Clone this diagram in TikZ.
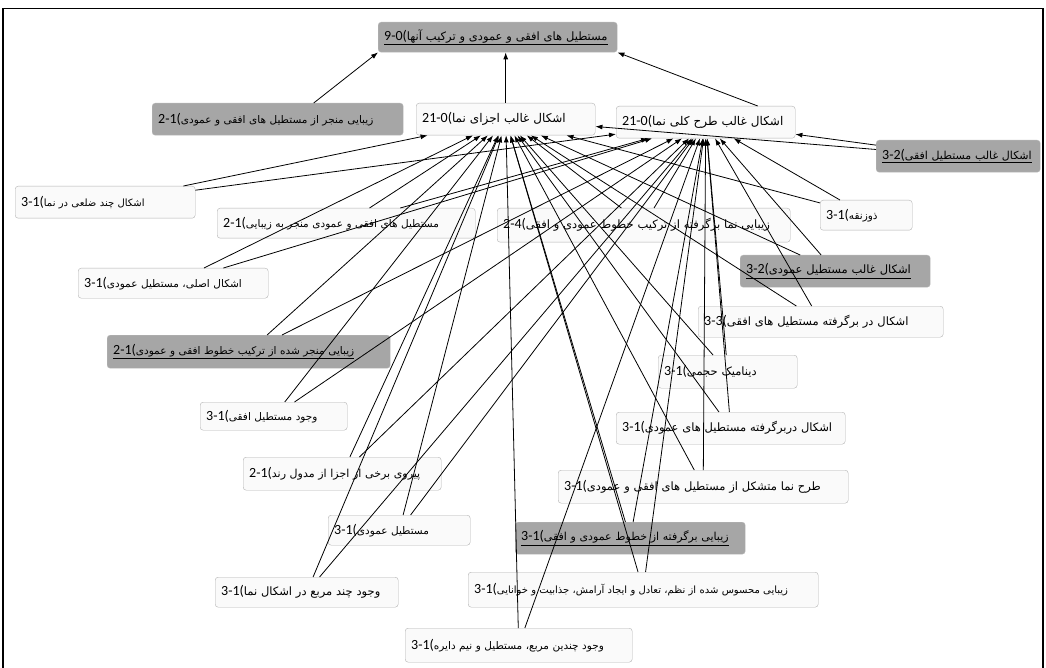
\documentclass[tikz,border=0pt]{standalone}
\usepackage{fontspec}
\setmainfont{Carlito}
\newfontfamily\fa[Script=Arabic]{DejaVu Sans}
\TeXXeTstate=1
\usetikzlibrary{arrows.meta}
% code digits in front of the Persian text
\newcommand{\dg}[1]{{\fontsize{14}{15}\selectfont #1(}}

\begin{document}
\begin{tikzpicture}[x=1pt,y=-1pt,
  box/.style={draw=gray!60, fill=gray!4, rounded corners=3pt, anchor=north west,
    inner xsep=6pt, inner ysep=2pt, align=left, font=\fontsize{10.5}{12}\selectfont},
  darkbox/.style={box, fill=gray!70, draw=gray!55},
  link/.style={-{Latex[length=7pt,width=5pt]}, line width=0.8pt}]
  \useasboundingbox (0,0) rectangle (1046,668);
  \draw[line width=1.6pt] (3,668) -- (3,8.5) -- (1043,8.5) -- (1043,668);

  % core
  \node[darkbox, text width=227pt, minimum height=30pt, font=\fontsize{11.5}{13}\selectfont] (n1) at (378,22) {\underline{\dg{9-0}\fa\beginR مستطیل های افقی و عمودی و ترکیب آنها\endR}};
  \node[box, text width=167pt, minimum height=32pt, font=\fontsize{12}{14}\selectfont] (n2) at (416,103) {\dg{21-0}\fa\beginR اشکال غالب اجزای نما\endR};
  \node[box, text width=167pt, minimum height=32pt, font=\fontsize{12}{14}\selectfont] (n3) at (616,106) {\dg{21-0}\fa\beginR اشکال غالب طرح کلی نما\endR};

  % codes
  \node[darkbox, text width=239pt, minimum height=32pt] (n4) at (152,103) {\dg{2-1}\fa\beginR زیبایی منجر از مستطیل های افقی و عمودی\endR};
  \node[darkbox, text width=152pt, minimum height=32pt, font=\fontsize{11}{13}\selectfont] (n5) at (876,140) {\underline{\dg{3-2}\fa\beginR اشکال غالب مستطیل افقی\endR}};
  \node[box, text width=168pt, minimum height=32pt, font=\fontsize{10}{12}\selectfont] (n6) at (15,186) {\dg{3-1}\fa\beginR اشکال چند ضلعی در نما\endR};
  \node[box, text width=246pt, minimum height=30pt] (n7) at (217,208) {\dg{2-1}\fa\beginR مستطیل های افقی و عمودی منجر به زیبایی\endR};
  \node[box, text width=281pt, minimum height=34pt, font=\fontsize{11.5}{13}\selectfont] (n8) at (497,208) {\dg{2-4}\fa\beginR زیبایی نما برگرفته از ترکیب خطوط عمودی و افقی\endR};
  \node[box, text width=80pt, minimum height=30pt] (n9) at (820,200) {\dg{3-1}\fa\beginR ذوزنقه\endR};
  \node[darkbox, text width=178pt, minimum height=32pt, font=\fontsize{11.5}{13}\selectfont] (n10) at (740,255) {\underline{\dg{3-2}\fa\beginR اشکال غالب مستطیل عمودی\endR}};
  \node[box, text width=178pt, minimum height=30pt] (n11) at (78,268) {\dg{3-1}\fa\beginR اشکال اصلی، مستطیل عمودی\endR};
  \node[darkbox, text width=271pt, minimum height=33pt] (n12) at (107,335) {\underline{\dg{2-1}\fa\beginR زیبایی منجر شده از ترکیب خطوط افقی و عمودی\endR}};
  \node[box, text width=233pt, minimum height=31pt, font=\fontsize{11.5}{13}\selectfont] (n13) at (698,306) {\dg{3-3}\fa\beginR اشکال در برگرفته مستطیل های افقی\endR};
  \node[box, text width=127pt, minimum height=33pt, font=\fontsize{11.5}{13}\selectfont] (n14) at (658,355) {\dg{3-1}\fa\beginR دینامیک حجمی\endR};
  \node[box, text width=217pt, minimum height=32pt, font=\fontsize{11.5}{13}\selectfont] (n15) at (616,412) {\dg{3-1}\fa\beginR اشکال دربرگرفته مستطیل های عمودی\endR};
  \node[box, text width=135pt, minimum height=28pt] (n16) at (200,402) {\dg{3-1}\fa\beginR وجود مستطیل افقی\endR};
  \node[box, text width=186pt, minimum height=33pt, font=\fontsize{11}{13}\selectfont] (n17) at (243,457) {\dg{2-1}\fa\beginR پیروی برخی از اجزا از مدول رند\endR};
  \node[box, text width=278pt, minimum height=33pt, font=\fontsize{11.5}{13}\selectfont] (n18) at (558,470) {\dg{3-1}\fa\beginR طرح نما متشکل از مستطیل های افقی و عمودی\endR};
  \node[box, text width=130pt, minimum height=30pt] (n19) at (328,515) {\dg{3-1}\fa\beginR مستطیل عمودی\endR};
  \node[darkbox, text width=218pt, minimum height=32pt, font=\fontsize{11}{13}\selectfont] (n20) at (515,522) {\underline{\dg{3-1}\fa\beginR زیبایی برگرفته از خطوط عمودی و افقی\endR}};
  \node[box, text width=171pt, minimum height=30pt, font=\fontsize{11.5}{13}\selectfont] (n21) at (215,577) {\dg{3-1}\fa\beginR وجود چند مربع در اشکال نما\endR};
  \node[box, text width=338pt, minimum height=35pt, font=\fontsize{10}{12}\selectfont] (n22) at (468,572) {\dg{3-1}\fa\beginR زیبایی محسوس شده از نظم، تعادل و ایجاد آرامش، جذابیت و خوانایی\endR};
  \node[box, text width=215pt, minimum height=34pt] (n23) at (405,628) {\dg{3-1}\fa\beginR وجود چندین مربع، مستطیل و نیم دایره\endR};

  % to the top
  \draw[link] ([xshift=36pt]n4.north) -- (n1.south west);
  \draw[link] (n2.north) -- (n2.north |- n1.south);
  \draw[link] ([xshift=52pt]n3.north) -- (n1.south east);

  % to the two core nodes
  \draw[link] (n5) -- (n2); \draw[link] (n5) -- (n3);
  \draw[link] (n6) -- (n2); \draw[link] (n6) -- (n3);
  \draw[link] (n7) -- (n2); \draw[link] (n7) -- (n3);
  \draw[link] (n8) -- (n2); \draw[link] (n8) -- (n3);
  \draw[link] (n9) -- (n2); \draw[link] (n9) -- (n3);
  \draw[link] (n10) -- (n2); \draw[link] (n10) -- (n3);
  \draw[link] (n11) -- (n2); \draw[link] (n11) -- (n3);
  \draw[link] (n12) -- (n2); \draw[link] (n12) -- (n3);
  \draw[link] (n13) -- (n2); \draw[link] (n13) -- (n3);
  \draw[link] (n14) -- (n2); \draw[link] (n14) -- (n3);
  \draw[link] (n15) -- (n2); \draw[link] (n15) -- (n3);
  \draw[link] (n16) -- (n2); \draw[link] (n16) -- (n3);
  \draw[link] (n17) -- (n2); \draw[link] (n17) -- (n3);
  \draw[link] (n18) -- (n2); \draw[link] (n18) -- (n3);
  \draw[link] (n19) -- (n2); \draw[link] (n19) -- (n3);
  \draw[link] (n20) -- (n2); \draw[link] (n20) -- (n3);
  \draw[link] (n21) -- (n2); \draw[link] (n21) -- (n3);
  \draw[link] (n22) -- (n2); \draw[link] (n22) -- (n3);
  \draw[link] (n23) -- (n2); \draw[link] (n23) -- (n3);
\end{tikzpicture}
\end{document}
